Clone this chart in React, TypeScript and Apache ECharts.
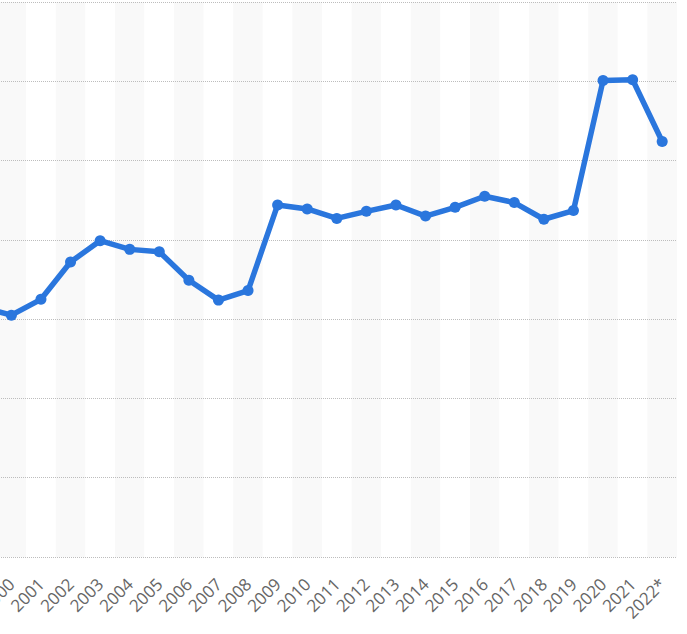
import React, { useEffect, useRef } from "react";
import * as echarts from "echarts";

const years = [
  "1999", "2000", "2001", "2002", "2003", "2004", "2005", "2006", "2007", "2008",
  "2009", "2010", "2011", "2012", "2013", "2014", "2015", "2016", "2017", "2018",
  "2019", "2020", "2021", "2022*",
];
const values = [
  31.5, 30.5, 32.5, 37.2, 39.9, 38.8, 38.5, 34.9, 32.4, 33.6,
  44.4, 43.9, 42.7, 43.6, 44.4, 43.0, 44.1, 45.5, 44.7, 42.6,
  43.7, 60.1, 60.2, 52.4,
];
const yMin = 0;
const yMax = 70;
const yStep = 10;

export default function App() {
  const ref = useRef<HTMLDivElement>(null);
  useEffect(() => {
    if (!ref.current) return;
    const chart = echarts.init(ref.current, undefined, { renderer: "svg" });
    chart.setOption({
      animation: false,
      backgroundColor: "#ffffff",
      grid: {
        left: -33,
        right: 10,
        top: 2,
        bottom: 77,
        containLabel: false,
        outerBoundsMode: "none",
      },
      xAxis: {
        type: "category",
        data: years,
        boundaryGap: true,
        z: 0,
        axisLine: { show: false },
        axisTick: { show: false },
        axisLabel: {
          interval: 0,
          rotate: 45,
          margin: 24,
          color: "#666666",
          fontSize: 17,
          fontFamily: "Open Sans",
          formatter: (v: string, i: number) => (i === 0 ? "" : v),
        },
        splitLine: { show: false },
        splitArea: {
          show: true,
          interval: 0,
          areaStyle: { color: ["#ffffff", "#f9f9f9"] },
        },
      },
      yAxis: {
        type: "value",
        min: yMin,
        max: yMax,
        interval: yStep,
        z: 3,
        axisLine: { show: false },
        axisTick: { show: false },
        axisLabel: { show: false },
        splitLine: {
          show: true,
          lineStyle: { type: "dotted", color: "#bdbdbd", width: 1 },
        },
      },
      series: [
        {
          type: "line",
          data: values,
          symbol: "circle",
          symbolSize: 11,
          showSymbol: true,
          itemStyle: { color: "#2a76dd" },
          lineStyle: { color: "#2a76dd", width: 5.5 },
          z: 5,
        },
      ],
    });
    return () => chart.dispose();
  }, []);
  return (
    <div
      ref={ref}
      style={{
        position: "fixed",
        left: 0,
        top: 0,
        width: 687,
        height: 634,
      }}
    />
  );
}
